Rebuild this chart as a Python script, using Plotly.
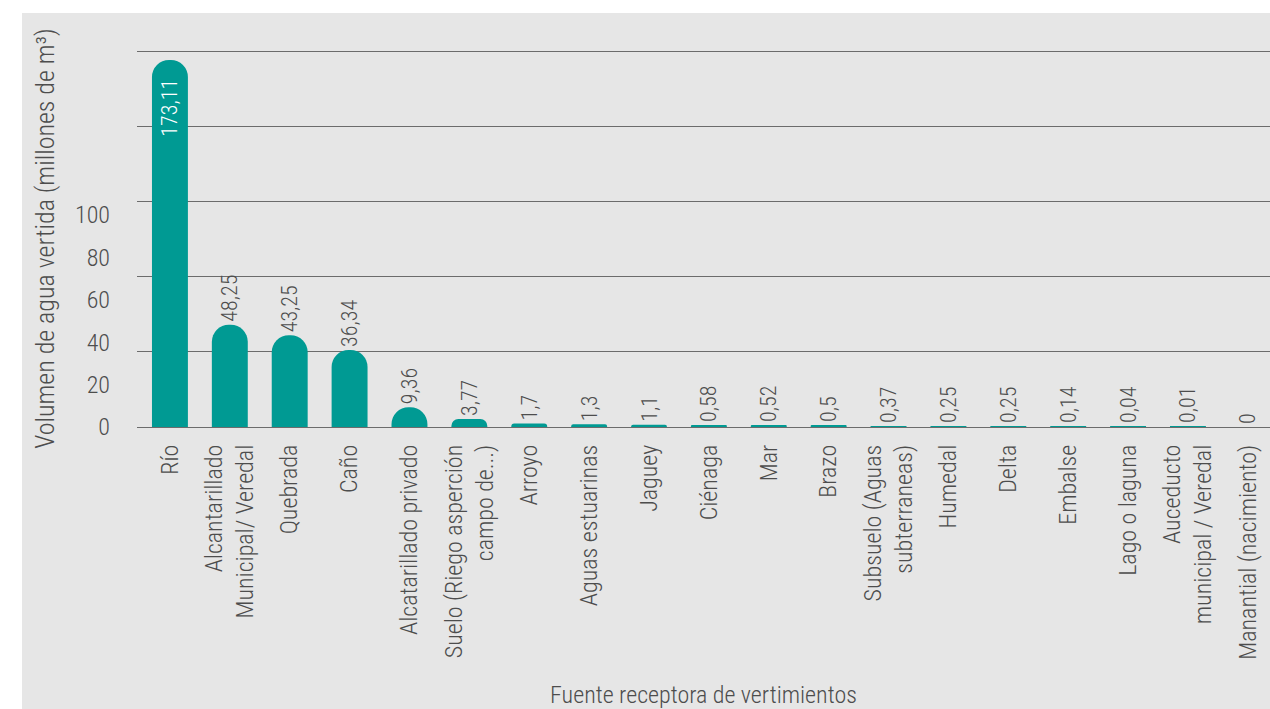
import plotly.graph_objects as go

# Receiving water bodies and discharged volume (millions of m³)
categories = [
    "Río",
    "Alcantarillado<br>Municipal/ Veredal",
    "Quebrada",
    "Caño",
    "Alcatarillado privado",
    "Suelo (Riego asperción<br>campo de...)",
    "Arroyo",
    "Aguas estuarinas",
    "Jaguey",
    "Ciénaga",
    "Mar",
    "Brazo",
    "Subsuelo (Aguas<br>subterraneas)",
    "Humedal",
    "Delta",
    "Embalse",
    "Lago o laguna",
    "Auceducto<br>municipal / Veredal",
    "Manantial (nacimiento)",
]
volumes = [173.11, 48.25, 43.25, 36.34, 9.36, 3.77, 1.7, 1.3, 1.1, 0.58,
           0.52, 0.5, 0.37, 0.25, 0.25, 0.14, 0.04, 0.01, 0]
y_ticks = [0, 20, 40, 60, 80, 100]

FONT = "Roboto Condensed, Liberation Sans Narrow, DejaVu Sans Condensed, Roboto, sans-serif"
WEIGHT = 300
TEAL = "#009a93"
TEXT = "#4d4d4d"
GRID = "#6c6c6c"
BG = "#e6e6e6"
NBSP = "\u00a0"

W, H = 1270, 709
M_L, M_R, M_T, M_B = 137, 0, 50, 282
GRID_TOP = 176.9   # highest horizontal rule
Y_MAX = 177.8      # axis range, leaves the top rule just inside the plot
N_GRID = 5

labels = [f"{v:g}".replace(".", ",") for v in volumes]
# the value inside the tall bar sits a little below its rounded top
labels[0] = labels[0] + NBSP * 2
positions = ["inside"] + ["outside"] * (len(volumes) - 1)

fig = go.Figure()
fig.add_trace(go.Bar(
    x=list(range(len(categories))),
    y=volumes,
    marker=dict(color=TEAL, line=dict(width=0)),
    width=0.6,
    text=labels,
    textposition=positions,
    insidetextanchor="end",
    textangle=-90,
    constraintext="none",
    cliponaxis=False,
    insidetextfont=dict(family=FONT, size=22, color="white", weight=WEIGHT),
    outsidetextfont=dict(family=FONT, size=22, color=TEXT, weight=WEIGHT),
    hoverinfo="skip",
))

# light grey panel behind the chart
pw = W - M_L - M_R
ph = H - M_T - M_B
fig.add_shape(
    type="rect", xref="paper", yref="paper", layer="below",
    x0=(22 - M_L) / pw, x1=(W - M_L) / pw,
    y0=-(H - M_T - ph) / ph, y1=(H - 13 - M_B) / ph,
    fillcolor=BG, line=dict(width=0),
)

fig.update_layout(
    width=W, height=H,
    margin=dict(l=M_L, r=M_R, t=M_T, b=M_B, pad=0),
    paper_bgcolor="white",
    plot_bgcolor="rgba(0,0,0,0)",
    barcornerradius="50%",
    showlegend=False,
    font=dict(family=FONT, color=TEXT, weight=WEIGHT),
    xaxis=dict(
        tickmode="array",
        tickvals=list(range(len(categories))),
        ticktext=categories,
        tickangle=-90,
        tickfont=dict(family=FONT, size=24, color=TEXT, weight=WEIGHT),
        ticks="",
        ticklabelstandoff=12,
        range=[-0.55, 18.37],
        showgrid=False, zeroline=False, showline=False,
        title=dict(text="Fuente receptora de vertimientos",
                   font=dict(family=FONT, size=24, color=TEXT, weight=WEIGHT),
                   standoff=30),
    ),
    yaxis=dict(
        range=[0, Y_MAX],
        tickmode="array", tickvals=y_ticks,
        ticktext=[str(t) for t in y_ticks],
        tickfont=dict(family=FONT, size=24, color=TEXT, weight=WEIGHT),
        ticks="",
        ticklabelstandoff=26,
        showgrid=False,
        zeroline=True, zerolinecolor=GRID, zerolinewidth=1,
        showline=False,
        minor=dict(
            tickmode="array",
            tickvals=[GRID_TOP * k / N_GRID for k in range(1, N_GRID + 1)],
            ticks="", showgrid=True, gridcolor=GRID, gridwidth=1,
        ),
        title=dict(text="Volumen de agua vertida (millones de m³)",
                   font=dict(family=FONT, size=26, color=TEXT, weight=WEIGHT),
                   standoff=12),
    ),
)

fig.write_html("out.html")
